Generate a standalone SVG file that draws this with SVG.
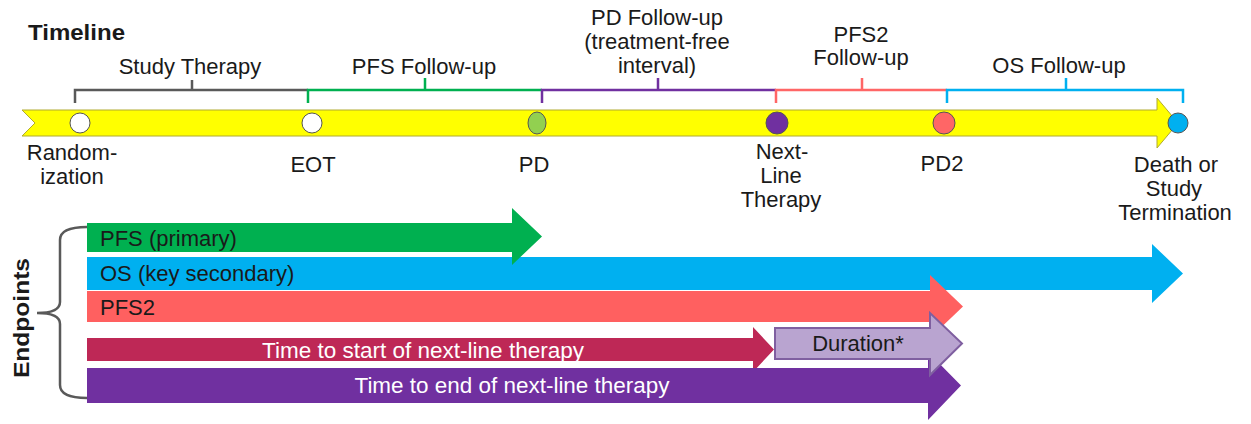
<svg xmlns="http://www.w3.org/2000/svg" width="1251" height="424" viewBox="0 0 1251 424">
<style>
text{font-family:"Liberation Sans",Arial,sans-serif;font-size:22px;fill:#1a1a1a}
.b{font-weight:bold}
.c{text-anchor:middle}
.w{fill:#ffffff}
.br{fill:none;stroke-width:2.5}
.dot{stroke:#555555;stroke-width:1}
</style>
<rect width="1251" height="424" fill="#ffffff"/>
<g id="title"><text class="b" x="28" y="40" font-size="21" textLength="97" lengthAdjust="spacingAndGlyphs">Timeline</text></g>
<g id="timeline">
<path d="M22,110 L1157,110 L1157,98 L1178,123 L1157,148 L1157,136 L22,136 L35,123 Z" fill="#ffff00" stroke="#b0aa30" stroke-width="1"/>
</g>
<g id="connectors">
<path class="br" stroke="#595959" d="M75,103 L75,90 L308,90 M192,90 L192,80"/>
<path class="br" stroke="#00b050" d="M308,103 L308,90 L542,90 M425,90 L425,78"/>
<path class="br" stroke="#7030a0" d="M542,103 L542,90 L776,90 M658,90 L658,78"/>
<path class="br" stroke="#ff6666" d="M776,103 L776,90 L947,90 M862,90 L862,78"/>
<path class="br" stroke="#00b0f0" d="M947,103 L947,90 L1183,90 L1183,103 M1066,90 L1066,78"/>
<path d="M87,227 Q60,227 60,240 L60,302 Q60,313 37,313 Q60,313 60,324 L60,385 Q60,398 87,398" fill="none" stroke="#595959" stroke-width="2.5"/>
</g>
<g id="phase-labels">
<text class="c" x="190" y="74">Study Therapy</text>
<text class="c" x="424" y="74">PFS Follow-up</text>
<text class="c" x="657" y="25">PD Follow-up</text>
<text class="c" x="657" y="49">(treatment-free</text>
<text class="c" x="657" y="73">interval)</text>
<text class="c" x="861" y="42">PFS2</text>
<text class="c" x="861" y="65">Follow-up</text>
<text class="c" x="1059" y="73">OS Follow-up</text>
</g>
<g id="randomization"><circle class="dot" cx="80" cy="123" r="10" fill="#ffffff"/><text class="c" x="72" y="160">Random-</text><text class="c" x="72" y="184">ization</text></g>
<g id="eot"><circle class="dot" cx="312" cy="123" r="10" fill="#ffffff"/><text class="c" x="313" y="172">EOT</text></g>
<g id="pd"><ellipse class="dot" cx="537" cy="123" rx="9" ry="11" fill="#92d050"/><text class="c" x="534" y="172">PD</text></g>
<g id="next-line"><circle class="dot" cx="777" cy="123" r="11" fill="#7030a0"/><text class="c" x="782" y="159">Next-</text><text class="c" x="781" y="183">Line</text><text class="c" x="781" y="207">Therapy</text></g>
<g id="pd2"><circle class="dot" cx="944" cy="123" r="11" fill="#ff6666"/><text class="c" x="942" y="171">PD2</text></g>
<g id="death"><circle class="dot" cx="1178" cy="123" r="10" fill="#00b0f0"/><text class="c" x="1176" y="172">Death or</text><text class="c" x="1174" y="196">Study</text><text class="c" x="1175" y="220">Termination</text></g>
<g id="endpoints-label"><text class="b c" transform="translate(29,318) rotate(-90)" x="0" y="0" font-size="22" textLength="120" lengthAdjust="spacingAndGlyphs">Endpoints</text></g>
<g id="os">
<path d="M87,257 L1152,257 L1152,244 L1183,273.5 L1152,303 L1152,290 L87,290 Z" fill="#00b0f0"/>
<text x="100" y="281">OS (key secondary)</text>
</g>
<g id="pfs">
<path d="M87,223 L512,223 L512,208 L542,236.5 L512,265 L512,252 L87,252 Z" fill="#00b050"/>
<text x="100" y="246">PFS (primary)</text>
</g>
<g id="pfs2">
<path d="M87,291 L930,291 L930,275 L963,306.5 L930,338 L930,322 L87,322 Z" fill="#ff6060"/>
<text x="100" y="315">PFS2</text>
</g>
<g id="ttnt">
<path d="M87,338 L753,338 L753,327 L774,349.5 L753,372 L753,361 L87,361 Z" fill="#be2856"/>
<text class="c w" x="423" y="358" textLength="322" lengthAdjust="spacingAndGlyphs">Time to start of next-line therapy</text>
</g>
<g id="tent">
<path d="M87,368 L928,368 L928,352 L961,385.5 L928,420 L928,403 L87,403 Z" fill="#7030a0"/>
<text class="c w" x="512" y="393" textLength="315" lengthAdjust="spacingAndGlyphs">Time to end of next-line therapy</text>
</g>
<g id="duration">
<path d="M775,328 L930,328 L930,313 L962,343.5 L930,375 L930,359 L775,359 Z" fill="#b9a4d0" stroke="#7f5fa0" stroke-width="2"/>
<text class="c" x="858" y="351">Duration*</text>
</g>
</svg>
